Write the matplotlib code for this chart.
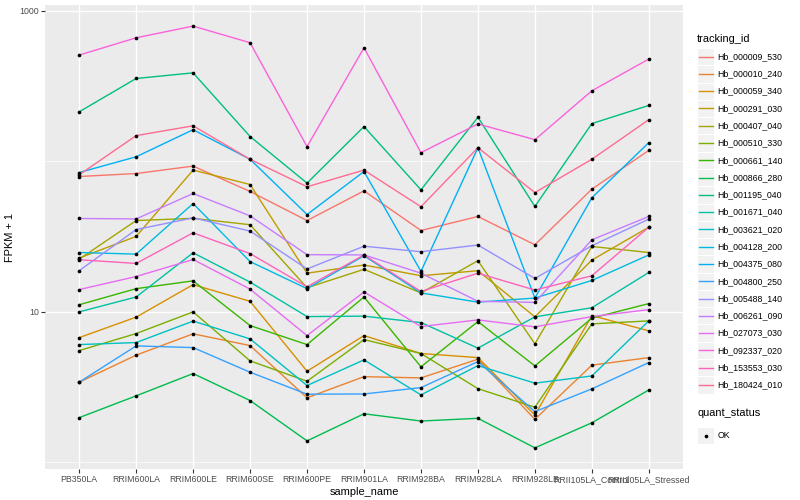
import matplotlib
matplotlib.use('Agg')
import matplotlib.pyplot as plt
from matplotlib.ticker import NullFormatter, FixedLocator
from matplotlib.patches import Rectangle

plt.rcParams['font.family'] = ['Liberation Sans', 'DejaVu Sans']

samples = ['PB350LA', 'RRIM600LA', 'RRIM600LE', 'RRIM600SE', 'RRIM600PE', 'RRIM901LA',
           'RRIM928BA', 'RRIM928LA', 'RRIM928LB', 'RRII105LA_Control', 'RRII105LA_Stressed']

tracking_ids = ['Hb_000009_530', 'Hb_000010_240', 'Hb_000059_340', 'Hb_000291_030',
                'Hb_000407_040', 'Hb_000510_330', 'Hb_000661_140', 'Hb_000866_280',
                'Hb_001195_040', 'Hb_001671_040', 'Hb_003621_020', 'Hb_004128_200',
                'Hb_004375_080', 'Hb_004800_250', 'Hb_005488_140', 'Hb_006261_090',
                'Hb_027073_030', 'Hb_092337_020', 'Hb_153553_030', 'Hb_180424_010']

colors = ['#F8766D', '#EA8331', '#D89000', '#C09B00', '#A3A500', '#7CAE00', '#39B600',
          '#00BB4E', '#00BF7D', '#00C1A3', '#00BFC4', '#00BAE0', '#00B0F6', '#35A2FF',
          '#9590FF', '#C77CFF', '#E76BF3', '#FA62DB', '#FF62BC', '#FF6C91']

# FPKM + 1 per gene, one value per sample
hb_000009_530 = [79.1, 82.8, 92.8, 62.9, 40.3, 63.5, 34.6, 42.9, 27.8, 65.2, 118]
hb_000010_240 = [3.39, 5.13, 7.11, 5.94, 2.67, 3.69, 3.62, 4.82, 1.92, 4.40, 4.94]
hb_000059_340 = [6.71, 9.18, 15.1, 11.7, 4.01, 6.92, 5.26, 4.94, 2.05, 9.40, 7.44]
hb_000291_030 = [22.7, 31.6, 87.3, 70.0, 18.0, 20.4, 17.3, 18.7, 9.22, 22.0, 36.4]
hb_000407_040 = [22.3, 40.3, 41.7, 37.8, 14.4, 19.1, 13.3, 21.8, 6.10, 27.1, 24.7]
hb_000510_330 = [5.50, 7.14, 9.95, 4.70, 3.44, 6.51, 5.26, 3.07, 2.31, 8.28, 8.67]
hb_000661_140 = [11.1, 14.2, 16.0, 8.07, 6.03, 12.5, 4.29, 8.58, 4.35, 9.04, 11.3]
hb_000866_280 = [1.97, 2.75, 3.87, 2.56, 1.38, 2.09, 1.87, 1.95, 1.24, 1.82, 3.01]
hb_001195_040 = [213, 355, 387, 146, 71.5, 170, 64.5, 196, 50.0, 178, 235]
hb_001671_040 = [9.95, 12.5, 24.6, 15.7, 9.26, 9.32, 8.45, 5.71, 9.22, 10.6, 18.2]
hb_003621_020 = [6.03, 6.22, 8.64, 6.58, 3.22, 4.77, 2.79, 4.37, 3.34, 3.73, 8.67]
hb_004128_200 = [24.7, 24.1, 52.3, 21.5, 14.2, 23.5, 13.3, 11.55, 12.3, 16.1, 23.8]
hb_004375_080 = [84.1, 107, 162, 103, 44.2, 85.4, 18.5, 123, 12.3, 57.1, 133]
hb_004800_250 = [3.39, 5.91, 5.76, 3.95, 2.82, 2.83, 3.12, 4.65, 2.16, 3.06, 4.58]
hb_005488_140 = [18.7, 35.1, 42.0, 34.3, 19.2, 27.2, 25.0, 27.7, 16.6, 27.4, 41.2]
hb_006261_090 = [41.6, 41.3, 61.0, 43.3, 23.9, 23.8, 18.0, 11.7, 11.5, 30.0, 42.9]
hb_027073_030 = [14.0, 17.1, 22.2, 14.1, 6.92, 13.5, 7.95, 8.80, 7.91, 9.26, 10.3]
hb_092337_020 = [508, 662, 792, 614, 125, 568, 114, 177, 139, 294, 478]
hb_153553_030 = [22.1, 20.9, 33.4, 24.3, 14.6, 23.8, 13.6, 18.0, 13.9, 17.3, 36.4]
hb_180424_010 = [81.2, 148, 172, 103, 67.6, 87.3, 49.8, 123, 61.9, 103, 189]

series = [hb_000009_530, hb_000010_240, hb_000059_340, hb_000291_030, hb_000407_040,
          hb_000510_330, hb_000661_140, hb_000866_280, hb_001195_040, hb_001671_040,
          hb_003621_020, hb_004128_200, hb_004375_080, hb_004800_250, hb_005488_140,
          hb_006261_090, hb_027073_030, hb_092337_020, hb_153553_030, hb_180424_010]

W, H = 800, 500
fig = plt.figure(figsize=(8, 5), dpi=100)
px_l, px_r, px_t, px_b = 45, 683, 5, 469
ax = fig.add_axes([px_l / W, 1 - px_b / H, (px_r - px_l) / W, (px_b - px_t) / H])
ax.set_facecolor('#EBEBEB')
for s in ax.spines.values():
    s.set_visible(False)

x = list(range(len(samples)))
for vals, c in zip(series, colors):
    ax.plot(x, vals, color=c, lw=1.0, zorder=3)
for vals in series:
    ax.scatter(x, vals, s=7, color='black', zorder=4, linewidths=0)

ax.set_yscale('log')
ax.set_ylim(0.897, 1094)
ax.set_xlim(-0.6, len(samples) - 0.4)
ax.set_xticks(x)
ax.set_xticklabels(samples, fontsize=6.3, color='#4D4D4D')
ax.yaxis.set_major_locator(FixedLocator([10, 1000]))
ax.yaxis.set_minor_locator(FixedLocator([1, 100]))
ax.yaxis.set_minor_formatter(NullFormatter())
ax.set_yticklabels(['10', '1000'], fontsize=6.3, color='#4D4D4D')
ax.tick_params(which='major', length=2.75, width=0.8, color='#333333', pad=1.5)
ax.tick_params(which='minor', length=0)
ax.grid(which='major', color='white', lw=1.0, zorder=0)
ax.grid(which='minor', axis='y', color='white', lw=0.5, zorder=0)
ax.set_axisbelow(True)
ax.set_xlabel('sample_name', fontsize=7.9, labelpad=2)
ax.set_ylabel('FPKM + 1', fontsize=7.9, labelpad=3)

# legend drawn in pixel coordinates on an overlay
lax = fig.add_axes([0, 0, 1, 1])
lax.set_xlim(0, W)
lax.set_ylim(H, 0)
lax.axis('off')
lax.patch.set_alpha(0)

key = 17.28
lx = 697
lax.text(lx, 39, 'tracking_id', fontsize=7.9, va='center', ha='left')
y0 = 48
for i, (name, c) in enumerate(zip(tracking_ids, colors)):
    yy = y0 + i * key
    lax.add_patch(Rectangle((lx, yy), key, key, facecolor='#F2F2F2', edgecolor='white', lw=0.8))
    lax.plot([lx + 1.7, lx + key - 1.7], [yy + key / 2, yy + key / 2], color=c, lw=1.0)
    lax.text(lx + key + 3, yy + key / 2, name, fontsize=6.3, va='center', ha='left')

lax.text(lx, 413, 'quant_status', fontsize=7.9, va='center', ha='left')
yy = 427
lax.add_patch(Rectangle((lx, yy), key, key, facecolor='#F2F2F2', edgecolor='white', lw=0.8))
lax.scatter([lx + key / 2], [yy + key / 2], s=7, color='black', linewidths=0)
lax.text(lx + key + 3, yy + key / 2, 'OK', fontsize=6.3, va='center', ha='left')

fig.savefig('out.png', dpi=100)
